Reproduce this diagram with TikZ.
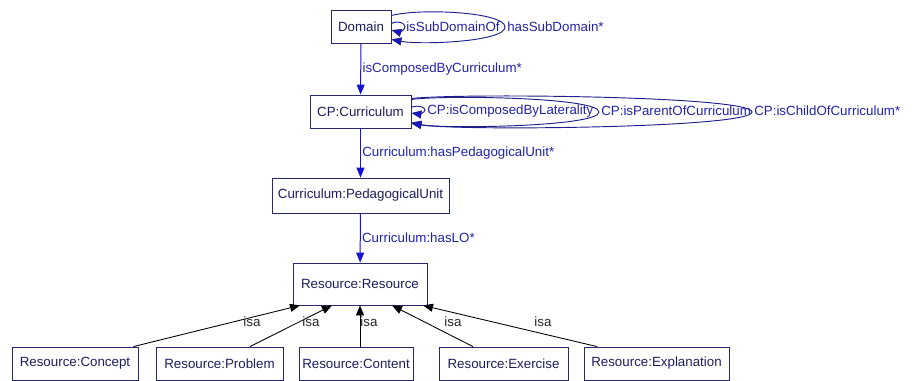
\documentclass[tikz,border=0pt]{standalone}
\usepackage{fontspec}
\setmainfont{Liberation Sans}
\usepackage{tikz}
\usepackage{xcolor}
\usetikzlibrary{arrows.meta, calc, positioning}

\definecolor{boxnavy}{RGB}{40,40,110}
\definecolor{txtnavy}{RGB}{30,30,95}
\definecolor{relblue}{RGB}{20,20,210}
\definecolor{lblblue}{RGB}{35,35,170}
\definecolor{loopnavy}{RGB}{30,30,140}

\tikzset{
  cls/.style={draw=boxnavy, text=txtnavy, fill=white, line width=0.65pt, minimum height=24.75pt, inner sep=0pt, font=\fontsize{10}{12}\selectfont},
  rel/.style={draw=relblue, line width=0.75pt, -{Triangle[length=7.5pt,width=6pt]}},
  selfrel/.style={draw=loopnavy, line width=0.7pt, -{Triangle[length=7.5pt,width=6pt,fill=relblue]}},
  rellbl/.style={text=lblblue, inner sep=0pt, font=\fontsize{10}{12}\selectfont},
  isarel/.style={draw=black, line width=0.65pt, -{Triangle[length=7.5pt,width=6pt]}},
  isalbl/.style={text=black!85, inner sep=0pt, font=\fontsize{10}{12}\selectfont}
}

\begin{document}
\begin{tikzpicture}[x=0.75pt,y=0.75pt,yscale=-1,xscale=1]
\useasboundingbox (0,0) rectangle (920,381);

%Classes
\node[cls, minimum width=45pt] (dom) at (361,26.5) {Domain};
\node[cls, minimum width=75.75pt] (cur) at (360.5,111.5) {CP:Curriculum};
\node[cls, minimum width=132.75pt, minimum height=26.25pt] (pu) at (360.5,195.5) {Curriculum:PedagogicalUnit};
\node[cls, minimum width=100.5pt, minimum height=31.5pt] (res) at (360,284) {Resource:Resource};
\node[cls, minimum width=94.5pt] (con) at (75,363.5) {Resource:Concept};
\node[cls, minimum width=95.25pt] (prb) at (219.5,363.5) {Resource:Problem};
\node[cls, minimum width=85.5pt] (cnt) at (356,363.5) {Resource:Content};
\node[cls, minimum width=96.75pt] (exe) at (503.5,363.5) {Resource:Exercise};
\node[cls, minimum width=108.75pt] (expl) at (656.5,363.5) {Resource:Explanation};

%Relations down the chain
\draw[rel] (dom) -- (cur) node[rellbl, midway, anchor=west, xshift=1pt] (l1) {isComposedByCurriculum*};
\draw[rel] (cur) -- (pu) node[rellbl, midway, anchor=west, xshift=1pt] (l2) {Curriculum:hasPedagogicalUnit*};
\draw[rel] (pu) -- (res) node[rellbl, midway, anchor=west, xshift=1pt] (l3) {Curriculum:hasLO*};

%Self loops on Domain
\draw[selfrel] ($(dom.east)+(0,-3)$) .. controls (398,20) and (405,23) .. (405,27) .. controls (405,31) and (398,32) .. ($(dom.east)+(0,3.5)$);
\draw[selfrel] ($(dom.east)+(0,-11)$) .. controls (420,8) and (505,12) .. (505,27) .. controls (505,42) and (420,45) .. ($(dom.east)+(0,13)$);
\node[rellbl, anchor=west] (ld1) at (406,27) {isSubDomainOf};
\node[rellbl, anchor=west] (ld2) at (507,27) {hasSubDomain*};

%Self loops on Curriculum
\draw[selfrel] ($(cur.east)+(0,-4.5)$) .. controls (418,105) and (425,107) .. (425,110) .. controls (425,113) and (418,114) .. ($(cur.east)+(0,1.5)$);
\draw[selfrel] ($(cur.east)+(0,-12)$) .. controls (440,95) and (599,97) .. (599,112) .. controls (599,127) and (440,129) .. ($(cur.east)+(0,11)$);
\draw[selfrel] ($(cur.east)+(0,-13)$) .. controls (460,93) and (752,96) .. (752,112) .. controls (752,128) and (460,131) .. ($(cur.east)+(0,12)$);
\node[rellbl, anchor=west] (lc1) at (427,111) {CP:isComposedByLaterality};
\node[rellbl, anchor=west] (lc2) at (601,111) {CP:isParentOfCurriculum};
\node[rellbl, anchor=west] (lc3) at (754,111) {CP:isChildOfCurriculum*};

%isa links
\draw[isarel] ($(con.north east)+(-5,0)$) -- ($(res.south)+(-60,0)$);
\draw[isarel] ($(prb.north)+(30.5,0)$) -- ($(res.south)+(-28,0)$);
\draw[isarel] ($(cnt.north)+(4,0)$) -- (res.south);
\draw[isarel] ($(exe.north)+(-30.5,0)$) -- ($(res.south)+(32,0)$);
\draw[isarel] ($(expl.north)+(-59.5,0)$) -- ($(res.south)+(63,0)$);
\node[isalbl] (i1) at (252,322) {isa};
\node[isalbl] (i2) at (311,322) {isa};
\node[isalbl] (i3) at (369,322) {isa};
\node[isalbl] (i4) at (453,322) {isa};
\node[isalbl] (i5) at (543,322) {isa};

\end{tikzpicture}
\end{document}
